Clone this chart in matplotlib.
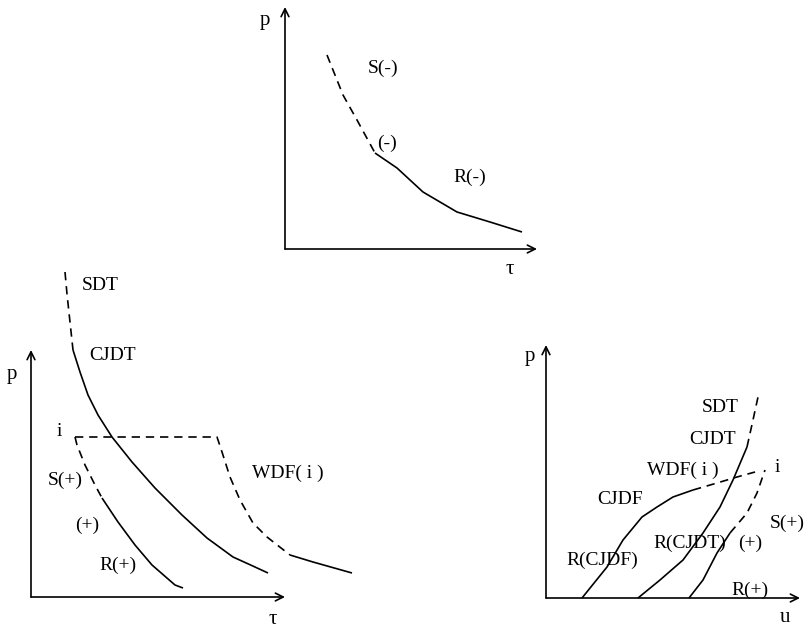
import matplotlib
matplotlib.use("Agg")
import matplotlib.pyplot as plt

FIG_W, FIG_H = 808, 629

# ---------- data (panel units, origin at axis corner) ----------
# top panel: p vs tau
top_S_minus_x = [42, 58, 72, 90]
top_S_minus_y = [194, 154, 129, 96]
top_R_minus_x = [90, 112, 138, 172, 205, 237]
top_R_minus_y = [96, 81, 57, 37, 27, 17]

# bottom-left panel: p vs tau
bl_SDT_x = [34, 36, 39, 42]
bl_SDT_y = [325, 303, 275, 247]
bl_CJDT_x = [42, 49, 57, 67, 81, 101, 124, 151, 176, 202, 224, 237]
bl_CJDT_y = [247, 225, 202, 182, 160, 135, 109, 82, 59, 40, 30, 24]
bl_WDF_dash_x = [44, 186, 191, 199, 209, 222, 236, 259]
bl_WDF_dash_y = [160, 160, 145, 120, 97, 74, 60, 42]
bl_WDF_solid_x = [259, 282, 321]
bl_WDF_solid_y = [42, 35, 24]
bl_Splus_x = [44, 46, 54, 64, 71]
bl_Splus_y = [160, 152, 132, 112, 99]
bl_Rplus_x = [71, 87, 104, 121, 144, 152]
bl_Rplus_y = [99, 75, 52, 32, 12, 9]

# bottom-right panel: p vs u
br_RCJDF_x = [36, 61, 77, 96, 111, 127, 147]
br_RCJDF_y = [0, 31, 58, 81, 91, 101, 108]
br_WDF_x = [147, 171, 191, 209]
br_WDF_y = [108, 115, 121, 126]
br_CJDT_x = [92, 114, 137, 157, 174, 187, 201]
br_CJDT_y = [0, 18, 38, 65, 91, 118, 151]
br_SDT_x = [201, 207, 212]
br_SDT_y = [151, 178, 201]
br_Rplus_x = [143, 157, 171, 184]
br_Rplus_y = [0, 18, 45, 65]
br_Splus_x = [184, 201, 211, 219]
br_Splus_y = [65, 85, 105, 128]

plt.rcParams['font.family'] = ['Liberation Serif', 'DejaVu Serif']
FS = 14
LW = 1.2
DASH = (0, (5, 3.5))

fig = plt.figure(figsize=(FIG_W / 100, FIG_H / 100), dpi=100)
fig.patch.set_facecolor('white')


def panel(ox, oy, W, H, xlabel, xlab_pos, ylab_pos):
    ax = fig.add_axes([ox / FIG_W, (FIG_H - oy) / FIG_H, W / FIG_W, H / FIG_H])
    ax.set_xlim(0, W)
    ax.set_ylim(0, H)
    ax.axis('off')
    ax.annotate('', xy=(W, 0), xytext=(0, 0), annotation_clip=False,
                arrowprops=dict(arrowstyle='->', lw=LW, color='black',
                                shrinkA=0, shrinkB=0, mutation_scale=14))
    ax.annotate('', xy=(0, H), xytext=(0, 0), annotation_clip=False,
                arrowprops=dict(arrowstyle='->', lw=LW, color='black',
                                shrinkA=0, shrinkB=0, mutation_scale=14))
    ax.text(*ylab_pos, 'p', fontsize=FS + 1, ha='center', va='center', clip_on=False)
    ax.text(*xlab_pos, xlabel, fontsize=FS + 1, ha='center', va='center', clip_on=False)
    return ax


def solid(ax, x, y):
    ax.plot(x, y, color='black', lw=LW, clip_on=False, solid_capstyle='butt',
            solid_joinstyle='round')


def dashed(ax, x, y):
    ax.plot(x, y, color='black', lw=LW, ls=DASH, clip_on=False)


def lab(ax, x, y, s):
    ax.text(x, y, s, fontsize=FS, ha='center', va='center', clip_on=False)


# top panel
ax1 = panel(285, 249, 252, 242, 'τ', (225, -21), (-20, 229))
dashed(ax1, top_S_minus_x, top_S_minus_y)
solid(ax1, top_R_minus_x, top_R_minus_y)
lab(ax1, 98, 181, 'S(-)')
lab(ax1, 102, 106, '(-)')
lab(ax1, 185, 72, 'R(-)')

# bottom-left panel
ax2 = panel(31, 597, 254, 247, 'τ', (242, -23), (-19, 222))
dashed(ax2, bl_SDT_x, bl_SDT_y)
solid(ax2, bl_CJDT_x, bl_CJDT_y)
dashed(ax2, bl_WDF_dash_x, bl_WDF_dash_y)
solid(ax2, bl_WDF_solid_x, bl_WDF_solid_y)
dashed(ax2, bl_Splus_x, bl_Splus_y)
solid(ax2, bl_Rplus_x, bl_Rplus_y)
lab(ax2, 69, 312, 'SDT')
lab(ax2, 82, 242, 'CJDT')
lab(ax2, 28, 165, 'i')
lab(ax2, 257, 124, 'WDF( i )')
lab(ax2, 34, 117, 'S(+)')
lab(ax2, 56, 72, '(+)')
lab(ax2, 87, 32, 'R(+)')

# bottom-right panel
ax3 = panel(546, 598, 254, 253, 'u', (239, -20), (-16, 241))
solid(ax3, br_RCJDF_x, br_RCJDF_y)
dashed(ax3, br_WDF_x, br_WDF_y)
solid(ax3, br_CJDT_x, br_CJDT_y)
dashed(ax3, br_SDT_x, br_SDT_y)
solid(ax3, br_Rplus_x, br_Rplus_y)
dashed(ax3, br_Splus_x, br_Splus_y)
lab(ax3, 174, 191, 'SDT')
lab(ax3, 167, 158, 'CJDT')
lab(ax3, 137, 128, 'WDF( i )')
lab(ax3, 231, 131, 'i')
lab(ax3, 74, 98, 'CJDF')
lab(ax3, 241, 75, 'S(+)')
lab(ax3, 144, 55, 'R(CJDT)')
lab(ax3, 204, 55, '(+)')
lab(ax3, 56, 38, 'R(CJDF)')
lab(ax3, 204, 8, 'R(+)')

fig.savefig('out.png', dpi=100, facecolor='white')
